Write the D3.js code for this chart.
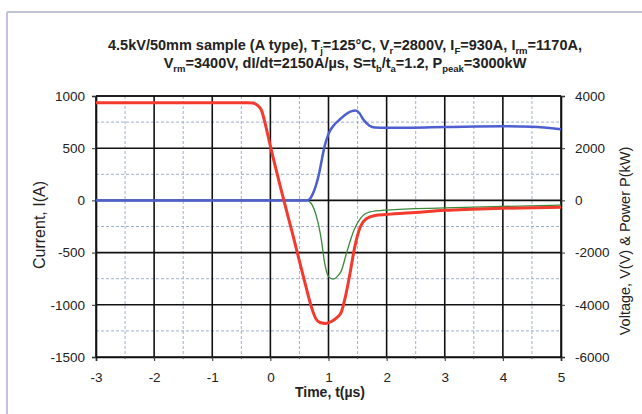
<!DOCTYPE html>
<html>
<head>
<meta charset="utf-8">
<script src="https://cdn.jsdelivr.net/npm/d3@7"></script>
<style>
  body { margin: 0; background: #fff; }
  text { font-family: "Liberation Sans", Arial, sans-serif; fill: #222; }
</style>
</head>
<body>
<script>
// time axis ticks and value ticks
var timeTicks = [-3, -2, -1, 0, 1, 2, 3, 4, 5];
var currentTicks = [1000, 500, 0, -500, -1000, -1500];
var voltTicks = [4000, 2000, 0, -2000, -4000, -6000];

// current I(A), red
var currentT = [-3, -1, -0.4, -0.3, -0.22, -0.15, -0.1, 0, 0.2, 0.4, 0.6, 0.7, 0.78, 0.85, 0.95, 1.05, 1.15, 1.22, 1.3, 1.37, 1.45, 1.55, 1.65, 1.8, 2.0, 2.5, 3, 4, 5];
var currentI = [935, 935, 935, 932, 910, 860, 760, 520, 70, -360, -800, -1010, -1130, -1170, -1178, -1160, -1120, -1070, -900, -700, -450, -250, -175, -145, -135, -115, -95, -75, -65];

// voltage V(V), blue
var voltT = [-3, 0, 0.62, 0.68, 0.73, 0.78, 0.83, 0.88, 0.93, 1.0, 1.1, 1.2, 1.3, 1.4, 1.47, 1.53, 1.6, 1.7, 1.8, 2.0, 3, 4, 4.5, 5];
var voltV = [0, 0, 0, 60, 250, 550, 950, 1500, 2050, 2550, 2900, 3110, 3300, 3420, 3440, 3350, 3100, 2870, 2790, 2780, 2810, 2840, 2820, 2730];

// power P(kW), green
var powerT = [-3, 0, 0.62, 0.68, 0.73, 0.78, 0.83, 0.88, 0.93, 1.0, 1.08, 1.15, 1.22, 1.31, 1.42, 1.55, 1.7, 2.0, 3, 4, 5];
var powerP = [0, 0, 0, -60, -220, -520, -950, -1550, -2350, -2920, -3020, -2920, -2700, -2020, -1250, -690, -450, -370, -290, -230, -180];

var W = 642, H = 414;
var m = {left: 96, right: 561, top: 96, bottom: 357};

var svg = d3.select("body").append("svg")
    .attr("width", W)
    .attr("height", H);

// outer frame
svg.append("line").attr("x1", 7).attr("x2", W).attr("y1", 12).attr("y2", 12)
    .attr("stroke", "#a8b0c8").attr("stroke-width", 1.5);
svg.append("line").attr("x1", 7).attr("x2", 7).attr("y1", 12).attr("y2", H)
    .attr("stroke", "#c9bde6").attr("stroke-width", 2);

var x = d3.scaleLinear().domain([-3, 5]).range([m.left, m.right]);
var yI = d3.scaleLinear().domain([-1500, 1000]).range([m.bottom, m.top]);
var yV = d3.scaleLinear().domain([-6000, 4000]).range([m.bottom, m.top]);

// minor grid (dashed)
var minorX = d3.range(-2.5, 5, 1);
var minorY = d3.range(-1250, 1000, 500);
svg.append("g").selectAll("line").data(minorX).enter().append("line")
    .attr("x1", d => x(d)).attr("x2", d => x(d))
    .attr("y1", m.top).attr("y2", m.bottom)
    .attr("stroke", "#9fb0d0").attr("stroke-width", 1).attr("stroke-dasharray", "3,2");
svg.append("g").selectAll("line").data(minorY).enter().append("line")
    .attr("x1", m.left).attr("x2", m.right)
    .attr("y1", d => yI(d)).attr("y2", d => yI(d))
    .attr("stroke", "#9fb0d0").attr("stroke-width", 1).attr("stroke-dasharray", "3,2");

// major grid
svg.append("g").selectAll("line").data(timeTicks).enter().append("line")
    .attr("x1", d => x(d)).attr("x2", d => x(d))
    .attr("y1", m.top).attr("y2", m.bottom)
    .attr("stroke", "#111").attr("stroke-width", 1.6);
svg.append("g").selectAll("line").data(currentTicks).enter().append("line")
    .attr("x1", m.left).attr("x2", m.right)
    .attr("y1", d => yI(d)).attr("y2", d => yI(d))
    .attr("stroke", "#111").attr("stroke-width", 1.6);

// plain hyphen minus like the original
var fmt = d => String(d);

// axes
var gx = svg.append("g").attr("transform", "translate(0," + m.bottom + ")")
    .call(d3.axisBottom(x).tickValues(timeTicks).tickSize(4).tickPadding(11).tickFormat(fmt));
var gl = svg.append("g").attr("transform", "translate(" + m.left + ",0)")
    .call(d3.axisLeft(yI).tickValues(currentTicks).tickSize(4).tickPadding(7).tickFormat(fmt));
var gr = svg.append("g").attr("transform", "translate(" + m.right + ",0)")
    .call(d3.axisRight(yV).tickValues(voltTicks).tickSize(4).tickPadding(10).tickFormat(fmt));
[gx, gl, gr].forEach(function(g) {
  g.select(".domain").attr("stroke", "#111").attr("stroke-width", 1.6);
  g.selectAll(".tick line").attr("stroke", "#333");
  g.selectAll(".tick text").attr("font-size", 13.5).attr("fill", "#222")
    .attr("font-family", "Liberation Sans, Arial, sans-serif");
});
// small minor ticks along the time axis
gx.append("g").selectAll("line").data(d3.range(-2.5, 5, 0.5)).enter().append("line")
    .attr("x1", d => x(d)).attr("x2", d => x(d)).attr("y1", 0).attr("y2", 2)
    .attr("stroke", "#444");
svg.append("line").attr("x1", m.left).attr("x2", m.right).attr("y1", m.top).attr("y2", m.top)
    .attr("stroke", "#111").attr("stroke-width", 1.6);

// curves
svg.append("clipPath").attr("id", "plot").append("rect")
    .attr("x", m.left).attr("y", m.top - 2)
    .attr("width", m.right - m.left).attr("height", m.bottom - m.top + 4);

function series(ts, vs, yScale) {
  return d3.line().curve(d3.curveMonotoneX)
    .x((d, i) => x(ts[i])).y(d => yScale(d))(vs);
}

var plot = svg.append("g").attr("clip-path", "url(#plot)");
plot.append("path").attr("d", series(powerT, powerP, yV))
    .attr("fill", "none").attr("stroke", "#3a8a3a").attr("stroke-width", 1.3);
plot.append("path").attr("d", series(voltT, voltV, yV))
    .attr("fill", "none").attr("stroke", "#4d5fd0").attr("stroke-width", 2.5);
plot.append("path").attr("d", series(currentT, currentI, yI))
    .attr("fill", "none").attr("stroke", "#f33a2e").attr("stroke-width", 3);

// title with subscripts
function titleLine(y, parts) {
  var t = svg.append("text").attr("x", 345).attr("y", y)
      .attr("text-anchor", "middle").attr("font-size", 14.5).attr("font-weight", "bold");
  var shift = 0;
  parts.forEach(function(p) {
    if (typeof p === "string") {
      t.append("tspan").attr("dy", -shift).text(p);
      shift = 0;
    } else {
      t.append("tspan").attr("font-size", 9.5).attr("dy", 3.5).text(p.sub);
      shift = 3.5;
    }
  });
}
titleLine(50, ["4.5kV/50mm sample (A type),  T", {sub: "j"}, "=125\u00b0C, V", {sub: "r"}, "=2800V, I",
  {sub: "F"}, "=930A, I", {sub: "rm"}, "=1170A,"]);
titleLine(68, ["V", {sub: "rm"}, "=3400V, dI/dt=2150A/\u00b5s, S=t", {sub: "b"}, "/t", {sub: "a"},
  "=1.2, P", {sub: "peak"}, "=3000kW"]);

// axis titles
svg.append("text").attr("x", 330).attr("y", 397).attr("text-anchor", "middle")
    .attr("font-size", 14).attr("font-weight", "bold").text("Time, t(\u00b5s)");
svg.append("text").attr("transform", "translate(45,225) rotate(-90)")
    .attr("text-anchor", "middle").attr("font-size", 16).text("Current, I(A)");
svg.append("text").attr("transform", "translate(630,241) rotate(-90)")
    .attr("text-anchor", "middle").attr("font-size", 14.5).text("Voltage, V(V) & Power P(kW)");
</script>
</body>
</html>
